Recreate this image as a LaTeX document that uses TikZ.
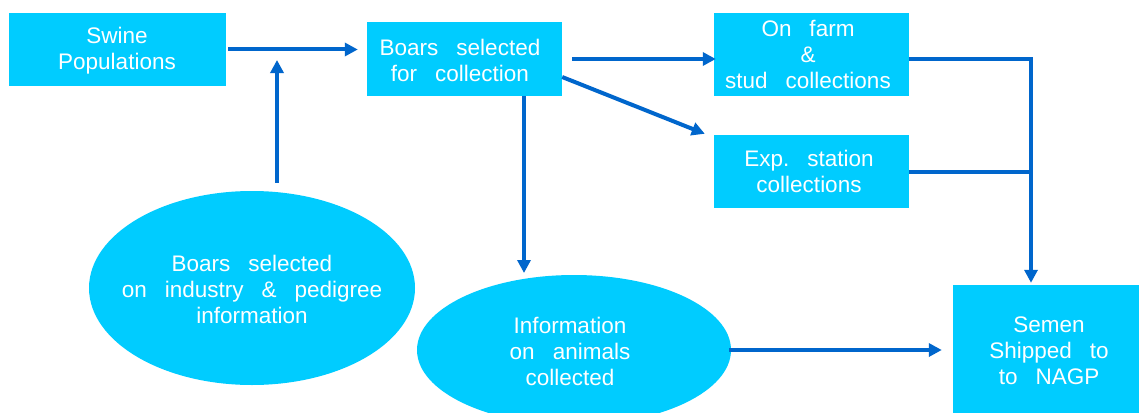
\documentclass[tikz,border=0pt]{standalone}
\usepackage{fontspec}
\setmainfont{Liberation Sans}
\usetikzlibrary{arrows.meta,shapes.geometric,calc}
\definecolor{boxcyan}{HTML}{00CCFF}
\definecolor{flowblue}{HTML}{0066CC}
% wide gap between words
\newcommand\wsp{\hspace{18pt}}
\begin{document}
\begin{tikzpicture}[x=1pt,y=-1pt,
  box/.style={rectangle, fill=boxcyan, inner sep=0pt},
  blob/.style={ellipse, fill=boxcyan, inner sep=0pt},
  txt/.style={text=white, align=center, inner sep=0pt,
    font=\fontsize{22.5}{26}\selectfont},
  arr/.style={draw=flowblue, line width=4pt,
    -{Triangle[length=13pt,width=13pt]}},
  wire/.style={draw=flowblue, line width=4pt}]
\clip (0,0) rectangle (1139,412);
\fill[white] (0,0) rectangle (1139,412);

% boxes
\node[box, minimum width=217pt, minimum height=73pt] (swine) at (117.5,49.5) {};
\node[box, minimum width=195pt, minimum height=74pt] (boars) at (464.5,59) {};
\node[box, minimum width=195pt, minimum height=83pt] (onfarm) at (811.5,54.5) {};
\node[box, minimum width=195pt, minimum height=73pt] (exp) at (811.5,171.5) {};
\node[box, minimum width=190pt, minimum height=132pt] (semen) at (1048,351) {};

% ellipses
\node[blob, minimum width=326pt, minimum height=194pt] (sel) at (252,288) {};
\node[blob, minimum width=314pt, minimum height=150pt] (info) at (574,350) {};

% labels
\node[txt] (swineT) at (117,50.5) {Swine\\Populations};
\node[txt] (boarsT) at (460,60) {Boars\wsp selected\\for\wsp collection};
\node[txt] (onfarmT) at (808,54.5) {On\wsp farm\\\&\\stud\wsp collections};
\node[txt] (expT) at (809,171.5) {Exp.\wsp station\\collections};
\node[txt] (selT) at (252,289.5) {Boars\wsp selected\\on\wsp industry\wsp \&\wsp pedigree\\information};
\node[txt] (infoT) at (570,351) {Information\\on\wsp animals\\collected};
\node[txt] (semenT) at (1049,351) {Semen\\Shipped\wsp to\\to\wsp NAGP};

% connector ends
\coordinate (uptip) at (277,60);
\coordinate (downtip) at (524,273);
\coordinate (bus) at (1031,59);

% connectors
\draw[arr, shorten <=2pt, shorten >=9pt] (swine.east) -- (swine.east -| boars.west);
\draw[arr] ($(sel.north -| uptip)+(0,-8)$) -- (uptip);
\draw[arr, shorten <=10pt, shorten >=-2pt] (boars.east) -- (boars.east -| onfarm.west);
\draw[arr] ($(boars.east)+(0,18)$) -- ($(exp.north west)+(-9,-1)$);
\draw[arr] (boars.south -| downtip) -- (downtip);
\draw[arr, shorten >=2pt] ($(onfarm.east)+(0,4.5)$) -| (semen.north -| bus);
\draw[wire] (exp.east) -- (exp.east -| bus);
\draw[arr, shorten <=-2pt, shorten >=11pt] (info.east) -- (info.east -| semen.west);
\end{tikzpicture}
\end{document}
